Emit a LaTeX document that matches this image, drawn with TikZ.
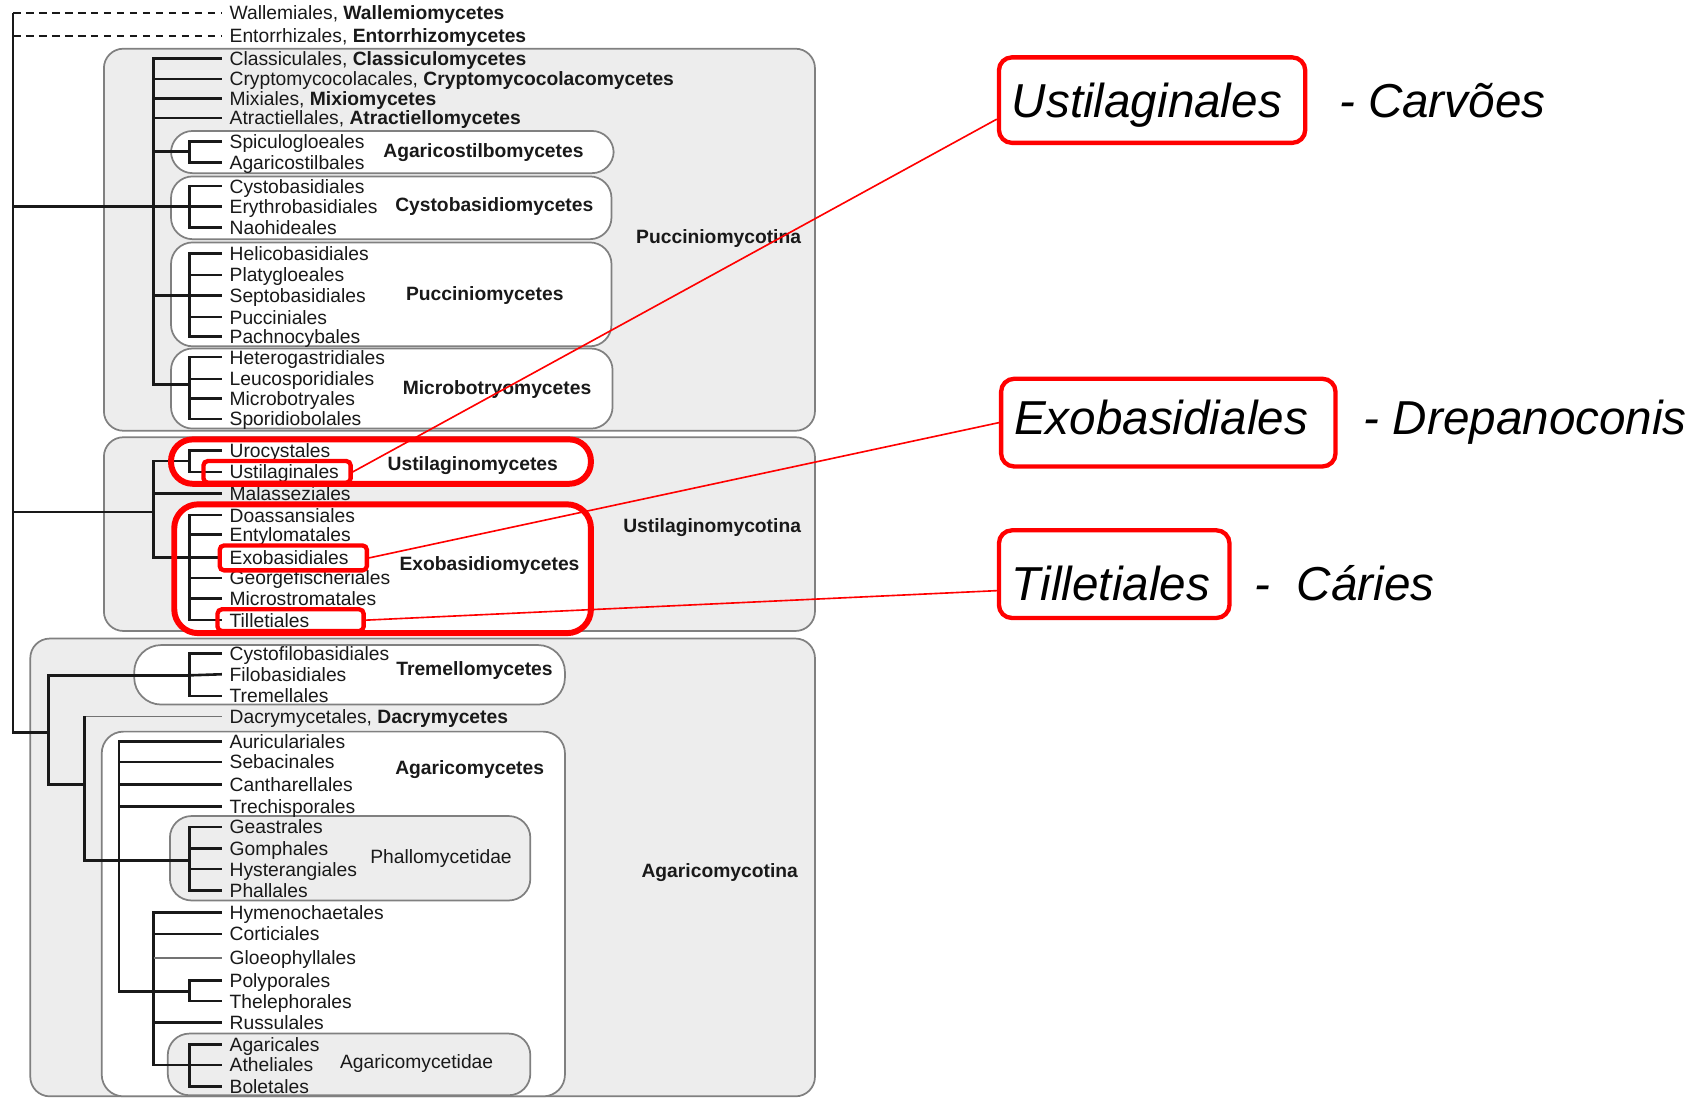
\documentclass[tikz,border=0pt]{standalone}
\usepackage{fontspec}
\setmainfont{Liberation Sans}
\usetikzlibrary{positioning}
\definecolor{panelgrey}{RGB}{237,237,237}
\definecolor{rimgrey}{RGB}{128,128,128}
\definecolor{inkblack}{RGB}{25,25,25}
\definecolor{markred}{RGB}{255,0,0}
\tikzset{
	taxon/.style={anchor=west, inner xsep=7pt, inner ysep=0pt, text height=12.8pt, text depth=0pt, text=inkblack, font=\fontsize{17.8}{20}\selectfont},
	group/.style={taxon, inner xsep=0pt, font=\fontsize{17.8}{20}\selectfont\bfseries},
	subgroup/.style={taxon, inner xsep=0pt},
	phylum/.style={group, anchor=center},
}

\begin{document}
\begin{tikzpicture}[x=1pt, y=-1pt]

	\tikzstyle{panel}=[draw=rimgrey, line width=1.6pt, fill=panelgrey, rounded corners=18pt]
	\tikzstyle{classpanel}=[panel, fill=white, rounded corners=20pt]
	\tikzstyle{subpanel}=[panel, rounded corners=20pt]
	\tikzstyle{ring}=[draw=markred, line width=5.5pt, rounded corners=20pt]
	\tikzstyle{branch}=[draw=inkblack, line width=2.4pt]
	\tikzstyle{twig}=[draw=black!55, line width=1.4pt]
	\tikzstyle{hilite}=[draw=markred, line width=4pt, rounded corners=4pt, inner sep=0pt]
	\tikzstyle{callout}=[draw=markred, line width=4pt, rounded corners=12pt, anchor=west, inner xsep=12pt, inner ysep=0pt, align=left, text depth=0pt, font=\fontsize{44}{50}\selectfont\itshape]
	\tikzstyle{gloss}=[inner sep=0pt, font=\fontsize{44}{50}\selectfont\itshape]
	\tikzstyle{pointer}=[draw=markred, line width=1.5pt]

	\useasboundingbox (0,0) rectangle (1568,1015);

	\draw[panel] (96,45) rectangle (753,398);
	\draw[classpanel] (158,121) rectangle (567,160);
	\draw[classpanel] (158,163) rectangle (565,221);
	\draw[classpanel] (158,224) rectangle (565,320);
	\draw[classpanel] (158,322) rectangle (566,396);
	\draw[panel] (96,404) rectangle (753,583);
	\draw[classpanel] (158,406) rectangle (546,447);
	\draw[classpanel, rounded corners=22pt] (161,466) rectangle (546,585);
	\draw[panel] (28,590) rectangle (753,1013);
	\draw[classpanel, rounded corners=25pt] (124,596) rectangle (522,651);
	\draw[classpanel] (94,676) rectangle (522,1013);
	\draw[subpanel] (157,754) rectangle (490,832);
	\draw[subpanel] (155,955) rectangle (490,1012);

	\node at (205,12) (wal) [taxon] {Wallemiales, \textbf{Wallemiomycetes}};
	\node at (205,33) (ent) [taxon] {Entorrhizales, \textbf{Entorrhizomycetes}};
	\node at (205,54) (cla) [taxon] {Classiculales, \textbf{Classiculomycetes}};
	\node at (205,73) (cry) [taxon] {Cryptomycocolacales, \textbf{Cryptomycocolacomycetes}};
	\node at (205,91) (mix) [taxon] {Mixiales, \textbf{Mixiomycetes}};
	\node at (205,109) (atr) [taxon] {Atractiellales, \textbf{Atractiellomycetes}};
	\node at (205,131) (spi) [taxon] {Spiculogloeales};
	\node at (205,150) (agl) [taxon] {Agaricostilbales};
	\node at (205,172) (cys) [taxon] {Cystobasidiales};
	\node at (205,191) (ery) [taxon] {Erythrobasidiales};
	\node at (205,210) (nao) [taxon] {Naohideales};
	\node at (205,234) (hel) [taxon] {Helicobasidiales};
	\node at (205,254) (pla) [taxon] {Platygloeales};
	\node at (205,273) (sep) [taxon] {Septobasidiales};
	\node at (205,293) (pcc) [taxon] {Pucciniales};
	\node at (205,311) (pac) [taxon] {Pachnocybales};
	\node at (205,330) (het) [taxon] {Heterogastridiales};
	\node at (205,350) (leu) [taxon] {Leucosporidiales};
	\node at (205,368) (mbr) [taxon] {Microbotryales};
	\node at (205,387) (spo) [taxon] {Sporidiobolales};
	\node at (205,416) (uro) [taxon] {Urocystales};
	\node at (205,436) (ust) [taxon] {Ustilaginales};
	\node at (205,456) (mal) [taxon] {Malasseziales};
	\node at (205,476) (doa) [taxon] {Doassansiales};
	\node at (205,494) (enty) [taxon] {Entylomatales};
	\node at (205,515) (exo) [taxon] {Exobasidiales};
	\node at (205,534) (geo) [taxon] {Georgefischeriales};
	\node at (205,553) (mst) [taxon] {Microstromatales};
	\node at (205,573) (til) [taxon] {Tilletiales};
	\node at (205,604) (cfb) [taxon] {Cystofilobasidiales};
	\node at (205,623) (fil) [taxon] {Filobasidiales};
	\node at (205,643) (tre) [taxon] {Tremellales};
	\node at (205,662) (dac) [taxon] {Dacrymycetales, \textbf{Dacrymycetes}};
	\node at (205,685) (aur) [taxon] {Auriculariales};
	\node at (205,704) (seb) [taxon] {Sebacinales};
	\node at (205,725) (can) [taxon] {Cantharellales};
	\node at (205,745) (trc) [taxon] {Trechisporales};
	\node at (205,764) (gea) [taxon] {Geastrales};
	\node at (205,784) (gom) [taxon] {Gomphales};
	\node at (205,803) (hys) [taxon] {Hysterangiales};
	\node at (205,823) (pha) [taxon] {Phallales};
	\node at (205,843) (hym) [taxon] {Hymenochaetales};
	\node at (205,863) (cor) [taxon] {Corticiales};
	\node at (205,885) (glo) [taxon] {Gloeophyllales};
	\node at (205,906) (pol) [taxon] {Polyporales};
	\node at (205,925) (the) [taxon] {Thelephorales};
	\node at (205,945) (rus) [taxon] {Russulales};
	\node at (205,965) (agr) [taxon] {Agaricales};
	\node at (205,984) (ath) [taxon] {Atheliales};
	\node at (205,1004) (bol) [taxon] {Boletales};

	\node at (354,139) (agbl) [group] {Agaricostilbomycetes};
	\node at (365,189) (cybl) [group] {Cystobasidiomycetes};
	\node at (375,271) (pcnl) [group] {Pucciniomycetes};
	\node at (372,358) (mbtl) [group] {Microbotryomycetes};
	\node at (358,428) (usml) [group] {Ustilaginomycetes};
	\node at (369,521) (exml) [group] {Exobasidiomycetes};
	\node at (366,618) (trml) [group] {Tremellomycetes};
	\node at (365,709) (agml) [group] {Agaricomycetes};
	\node at (342,791) (phml) [subgroup] {Phallomycetidae};
	\node at (314,981) (acdl) [subgroup] {Agaricomycetidae};
	\node at (664,219) (pmcl) [phylum] {Pucciniomycotina};
	\node at (658,486) (uscl) [phylum] {Ustilaginomycotina};
	\node at (665,804) (agcl) [phylum] {Agaricomycotina};

	\coordinate (root) at (12,12);
	\coordinate (pmc) at (142,191);
	\coordinate (agb) at (175,140);
	\coordinate (cyb) at (175,191);
	\coordinate (pcn) at (175,273);
	\coordinate (mbt) at (175,355);
	\coordinate (usc) at (142,473);
	\coordinate (usm) at (175,426);
	\coordinate (exm) at (175,515);
	\coordinate (agc) at (45,677);
	\coordinate (trm) at (175,624);
	\coordinate (dcy) at (78,725);
	\coordinate (phm) at (175,795);
	\coordinate (agm) at (110,916);
	\coordinate (plt) at (175,916);
	\coordinate (agd) at (142,984);
	\coordinate (acd) at (175,984);

	\draw[branch, line width=1.8pt, dash pattern=on 7pt off 5pt] (root |- wal.west) -- (wal.west);
	\draw[branch, line width=1.8pt, dash pattern=on 7pt off 5pt] (root |- ent.west) -- (ent.west);
	\draw[branch] (root) -- (root |- agc) -- (agc);
	\draw[branch] (root |- pmc) -- (pmc);
	\draw[branch] (root |- usc) -- (usc);

	\draw[branch] (cla.west) -| (pmc |- mbt) -- (mbt);
	\draw[branch] (pmc |- cry.west) -- (cry.west);
	\draw[branch] (pmc |- mix.west) -- (mix.west);
	\draw[branch] (pmc |- atr.west) -- (atr.west);
	\draw[branch] (pmc |- agb) -- (agb);
	\draw[branch] (spi.west) -| (agb) |- (agl.west);
	\draw[branch] (pmc) -- (cyb) -- (ery.west);
	\draw[branch] (cys.west) -| (cyb) |- (nao.west);
	\draw[branch] (pmc |- pcn) -- (pcn) -- (sep.west);
	\draw[branch] (hel.west) -| (pcn) |- (pac.west);
	\draw[branch] (pcn |- pla.west) -- (pla.west);
	\draw[branch] (pcn |- pcc.west) -- (pcc.west);
	\draw[branch] (het.west) -| (mbt) |- (spo.west);
	\draw[branch] (mbt |- leu.west) -- (leu.west);
	\draw[branch] (mbt |- mbr.west) -- (mbr.west);

	\draw[branch] (usm) -- (usc |- usm) -- (usc |- exm) -- (exm);
	\draw[branch] (uro.west) -| (usm) |- (ust.west);
	\draw[branch] (usc |- mal.west) -- (mal.west);
	\draw[branch] (doa.west) -| (exm) |- (til.west);
	\draw[branch] (exm) -- (exo.west);
	\draw[branch] (exm |- enty.west) -- (enty.west);
	\draw[branch] (exm |- geo.west) -- (geo.west);
	\draw[branch] (exm |- mst.west) -- (mst.west);

	\draw[branch] (trm) -- (agc |- trm) -- (agc |- dcy) -- (dcy);
	\draw[branch] (cfb.west) -| (trm) |- (tre.west);
	\draw[branch] (trm) -- (fil.west);
	\draw[twig] (dcy |- dac.west) -- (dac.west);
	\draw[branch] (dcy |- dac.west) -- (dcy) |- (phm);
	\draw[branch] (gea.west) -| (phm) |- (pha.west);
	\draw[branch] (phm |- gom.west) -- (gom.west);
	\draw[branch] (phm |- hys.west) -- (hys.west);
	\draw[branch] (aur.west) -| (agm) -- (plt);
	\draw[branch] (agm |- seb.west) -- (seb.west);
	\draw[branch] (agm |- can.west) -- (can.west);
	\draw[branch] (agm |- trc.west) -- (trc.west);
	\draw[branch] (pol.west) -| (plt) |- (the.west);
	\draw[branch] (hym.west) -| (agd) -- (acd) -- (ath.west);
	\draw[branch] (agr.west) -| (acd) |- (bol.west);
	\draw[branch] (agd |- cor.west) -- (cor.west);
	\draw[branch] (agd |- rus.west) -- (rus.west);
	\draw[twig] (agd |- glo.west) -- (glo.west);

	\draw[ring] (158,406) rectangle (546,447);
	\draw[ring, rounded corners=22pt] (161,466) rectangle (546,585);

	\node at (256,436) (ustmark) [hilite, minimum width=136pt, minimum height=20pt] {};
	\node at (271,515.5) (exomark) [hilite, minimum width=136pt, minimum height=23pt] {};
	\node at (268.5,573) (tilmark) [hilite, minimum width=135pt, minimum height=20pt] {};

	\node at (921,92.5) (ustcall) [callout, text width=259pt, text height=31.7pt, minimum height=79pt] {Ustilaginales};
	\node at (923,390.5) (exocall) [callout, text width=285pt, text height=22pt, minimum height=81pt] {Exobasidiales};
	\node at (921,530.5) (tilcall) [callout, text width=189pt, text height=49pt, minimum height=81pt] {Tilletiales};
	\node[gloss, base right=29pt of ustcall] (ustgloss) {- Carvões};
	\node[gloss, base right=24pt of exocall] (exogloss) {- Drepanoconis};
	\node[gloss, base right=21pt of tilcall] (tilgloss) {-\ \ Cáries};

	\draw[pointer] (ustmark.east) -- (ustcall.187);
	\draw[pointer] (exomark.east) -- (exocall.west);
	\draw[pointer] (tilmark.east) -- (tilcall.188);
\end{tikzpicture}
\end{document}
